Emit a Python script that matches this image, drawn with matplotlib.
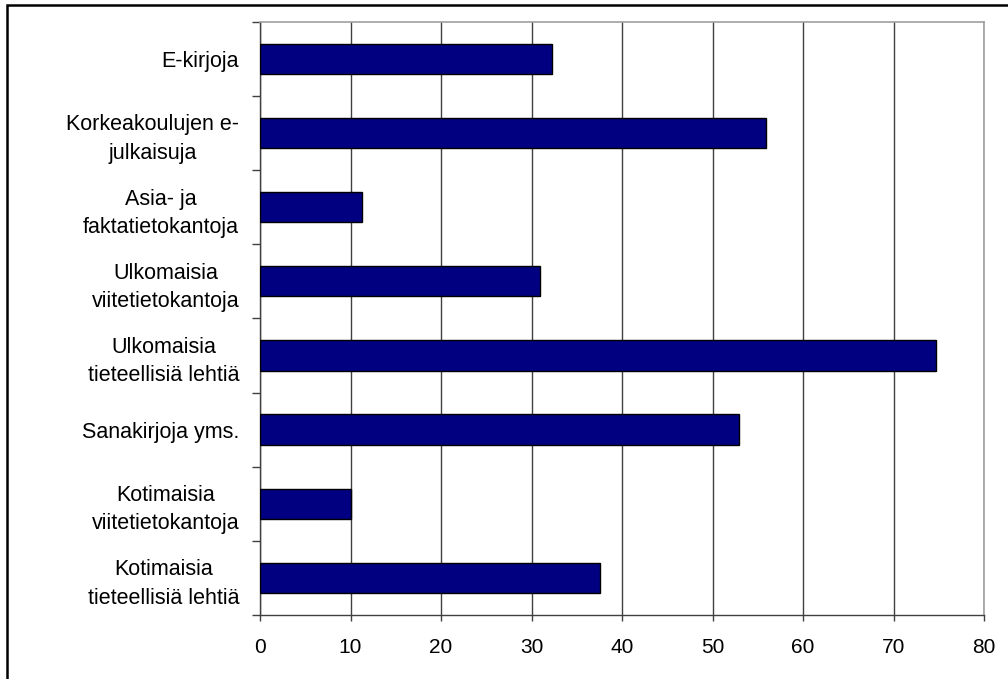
import matplotlib
matplotlib.use("Agg")
import matplotlib.pyplot as plt
from matplotlib.patches import Rectangle
import numpy as np

categories = [
    "E-kirjoja",
    "Korkeakoulujen e-\njulkaisuja",
    "Asia- ja\nfaktatietokantoja",
    "Ulkomaisia\nviitetietokantoja",
    "Ulkomaisia\ntieteellisiä lehtiä",
    "Sanakirjoja yms.",
    "Kotimaisia\nviitetietokantoja",
    "Kotimaisia\ntieteellisiä lehtiä",
]
values = [32.3, 55.9, 11.3, 30.9, 74.7, 52.9, 10.0, 37.6]
xticks = [0, 10, 20, 30, 40, 50, 60, 70, 80]

plt.rcParams['font.family'] = ['Liberation Sans', 'DejaVu Sans']

fig = plt.figure(figsize=(10.08, 6.79), dpi=100)
ax = fig.add_axes([260/1008, 1-615/679, (984-260)/1008, (615-21.7)/679])

n = len(categories)
ypos = np.arange(n)[::-1]  # first category at top
ax.barh(ypos, values, height=0.41, color='#000080', edgecolor='black',
        linewidth=1.0, zorder=3)

ax.set_xlim(0, 80)
ax.set_ylim(-0.5, n - 0.5)
ax.set_xticks(xticks)
ax.set_xticklabels([str(t) for t in xticks], fontsize=15)
ax.set_yticks(ypos)
ax.set_yticklabels(categories, fontsize=15.5, multialignment='center',
                   linespacing=1.45)
ax.set_yticks(np.arange(-0.5, n, 1.0), minor=True)
ax.tick_params(axis='y', which='major', length=0, pad=15)
ax.tick_params(axis='y', which='minor', length=5.8, width=1, color='#404040', direction='out')
ax.tick_params(axis='x', which='major', length=4.5, width=1, color='#404040', pad=12)

ax.grid(axis='x', color='#404040', linewidth=1.0, zorder=0)
ax.set_axisbelow(True)

for s in ['left', 'bottom']:
    ax.spines[s].set_color('#404040')
    ax.spines[s].set_linewidth(1.0)
for s in ['top', 'right']:
    ax.spines[s].set_color('#a0a0a0')
    ax.spines[s].set_linewidth(1.2)

# outer chart border
fig.patches.append(Rectangle((7/1008, -0.1), 1.2, 1 - 5/679 + 0.1,
                             transform=fig.transFigure, fill=False,
                             edgecolor='black', linewidth=1.8))

fig.savefig("out.png", dpi=100)
